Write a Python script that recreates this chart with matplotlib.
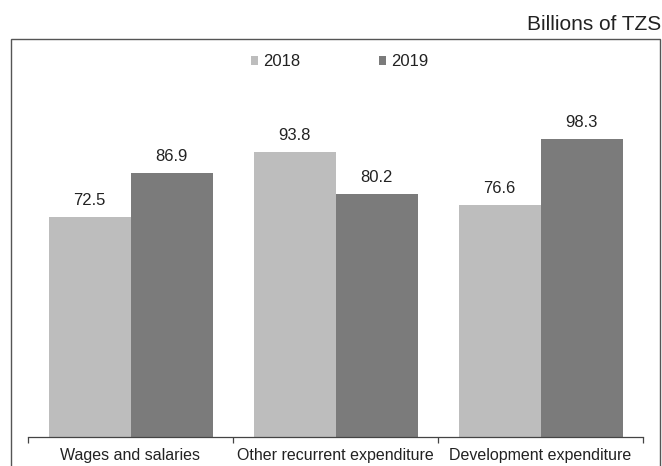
import numpy as np
import matplotlib.pyplot as plt
from matplotlib.patches import Rectangle

# -------------------------
# DATA
# -------------------------
categories = ["Wages and salaries", "Other recurrent expenditure", "Development expenditure"]
years = ["2018", "2019"]
values_2018 = [72.5, 93.8, 76.6]
values_2019 = [86.9, 80.2, 98.3]

# -------------------------
# STYLE
# -------------------------
plt.rcParams["font.family"] = ["Liberation Sans", "DejaVu Sans"]
COLOR_2018 = "#bdbdbd"
COLOR_2019 = "#7b7b7b"
TEXT_COLOR = "#222222"

W, H = 662, 466
fig = plt.figure(figsize=(W / 100, H / 100), dpi=100)

# outer box around the chart area (open at the bottom)
fig.patches.append(Rectangle((11 / W, -0.05), 649 / W, 1.05 - 39 / H,
                             transform=fig.transFigure, fill=False,
                             edgecolor="#555555", linewidth=1.0))

ax = fig.add_axes([28 / W, 29 / H, 615 / W, 364 / H])

x = np.arange(len(categories))
width = 0.4
bars18 = ax.bar(x - width / 2, values_2018, width, color=COLOR_2018, label=years[0])
bars19 = ax.bar(x + width / 2, values_2019, width, color=COLOR_2019, label=years[1])

for bars in (bars18, bars19):
    for b in bars:
        ax.annotate(f"{b.get_height():.1f}", (b.get_x() + b.get_width() / 2, b.get_height()),
                    xytext=(0, 6.5), textcoords="offset points", ha="center", va="bottom",
                    fontsize=12, color=TEXT_COLOR)

ax.set_xlim(-0.5, len(categories) - 0.5)
ax.set_ylim(0, 120)
ax.set_yticks([])
for side in ("left", "right", "top"):
    ax.spines[side].set_visible(False)
ax.spines["bottom"].set_color("#444444")
ax.spines["bottom"].set_linewidth(0.9)

# category boundaries as ticks, labels centred under each group
ax.set_xticks(np.arange(len(categories) + 1) - 0.5)
ax.set_xticklabels([])
ax.tick_params(axis="x", which="major", length=4, direction="out", color="#444444", width=0.9)
ax.set_xticks(x, minor=True)
ax.set_xticklabels(categories, minor=True, fontsize=11.5, color=TEXT_COLOR)
ax.tick_params(axis="x", which="minor", length=0, pad=8)

fig.legend(loc="center", bbox_to_anchor=(339.5 / W, 1 - 61.5 / H), ncol=2, frameon=False,
           fontsize=12, handlelength=0.45, handleheight=0.45, handletextpad=0.3,
           columnspacing=4.7, labelcolor=TEXT_COLOR)

fig.text(661 / W, 1 - 25 / H, "Billions of TZS", ha="right", va="center",
         fontsize=15, color=TEXT_COLOR)

fig.savefig("out.png", dpi=100)
